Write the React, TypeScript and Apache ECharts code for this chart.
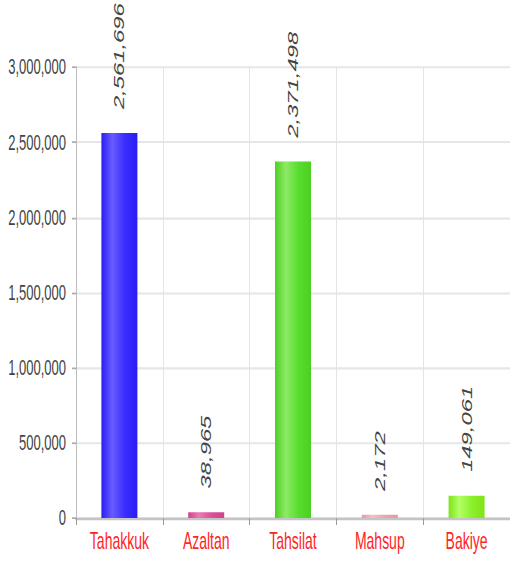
import React, { useEffect, useRef } from "react";
import * as echarts from "echarts";

const categories = ["Tahakkuk", "Azaltan", "Tahsilat", "Mahsup", "Bakiye"];
const values = [2561696, 38965, 2371498, 2172, 149061];
const yMin = 0;
const yMax = 3000000;
const yInterval = 500000;

const barColors = [
  ["#2a1cf5", "#6a5cff", "#3a2dff"],
  ["#d2428a", "#ec7ab5", "#d9509a"],
  ["#4ccf22", "#8eea66", "#58dd2e"],
  ["#e39aa3", "#f2c0c6", "#e8a6ae"],
  ["#7fe21a", "#b2ff66", "#8cf02a"],
];

const fmt = (v: number) => v.toLocaleString("en-US");

const STRETCH = 570 / 335;

export default function App() {
  const ref = useRef<HTMLDivElement>(null);
  useEffect(() => {
    if (!ref.current) return;
    const chart = echarts.init(ref.current, null, { renderer: "svg" });
    const data = values.map((v, i) => ({
      value: v,
      itemStyle: {
        color: new echarts.graphic.LinearGradient(0, 0, 1, 0, [
          { offset: 0, color: barColors[i][0] },
          { offset: 0.3, color: barColors[i][1] },
          { offset: 0.65, color: barColors[i][2] },
          { offset: 1, color: barColors[i][0] },
        ]),
      },
    }));
    chart.setOption({
      animation: false,
      backgroundColor: "#ffffff",
      grid: { left: 76, top: 39.4, width: 436, bottom: 30.5, containLabel: false },
      xAxis: {
        type: "category",
        data: categories,
        boundaryGap: true,
        axisLine: { show: true, lineStyle: { color: "#c4c4c4", width: 1.5 } },
        axisTick: { show: true, length: 4, lineStyle: { color: "#999" } },
        splitLine: { show: true, lineStyle: { color: "#e4e4e4", width: 1 } },
        axisLabel: {
          color: "#ff2424",
          fontSize: 14,
          fontFamily: "Liberation Sans",
          margin: 6,
        },
      },
      yAxis: {
        type: "value",
        min: yMin,
        max: yMax,
        interval: yInterval,
        axisLine: { show: true, lineStyle: { color: "#bbbbbb", width: 1 } },
        axisTick: { show: true, length: 4, inside: false, lineStyle: { color: "#aaa" } },
        splitLine: { show: true, lineStyle: { color: "#e6e6e6", width: 1.2 } },
        axisLabel: {
          color: "#444",
          fontSize: 13,
          fontFamily: "Liberation Sans",
          margin: 10,
          formatter: (v: number) => fmt(v),
        },
      },
      series: [
        {
          type: "bar",
          data,
          barWidth: 36,
          barMinHeight: 2,
          label: {
            show: true,
            position: "top",
            rotate: 90,
            align: "left",
            verticalAlign: "middle",
            distance: 14,
            fontStyle: "italic",
            fontSize: 14,
            fontFamily: "Liberation Sans",
            color: "#444",
            formatter: (p: any) => fmt(p.value),
          },
        },
      ],
    });
    return () => chart.dispose();
  }, []);
  return (
    <div
      ref={ref}
      style={{
        position: "absolute",
        left: 0,
        top: 0,
        width: 510,
        height: 335,
        transform: `scaleY(${STRETCH})`,
        transformOrigin: "0 0",
      }}
    />
  );
}
